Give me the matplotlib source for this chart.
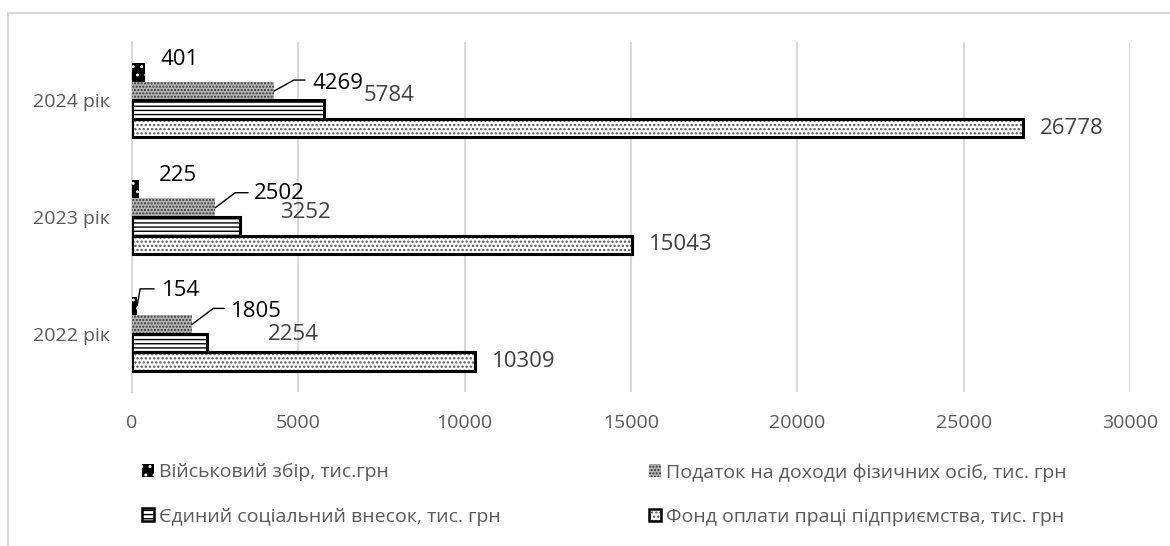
import matplotlib
matplotlib.use("Agg")
import matplotlib.pyplot as plt
import numpy as np
from matplotlib.patches import Patch, Rectangle
from matplotlib.legend_handler import HandlerTuple

plt.rcParams['font.family'] = ['Open Sans', 'DejaVu Sans']

# ---- data -------------------------------------------------------------
years = ["2022 рік", "2023 рік", "2024 рік"]
series_names = [
    "Військовий збір, тис.грн",
    "Податок на доходи фізичних осіб, тис. грн",
    "Єдиний соціальний внесок, тис. грн",
    "Фонд оплати праці підприємства, тис. грн",
]
military_levy = [154, 225, 401]
income_tax = [1805, 2502, 4269]
social_contrib = [2254, 3252, 5784]
payroll_fund = [10309, 15043, 26778]
x_ticks = [0, 5000, 10000, 15000, 20000, 25000, 30000]

# ---- styling ----------------------------------------------------------
# (face, hatch, hatch colour, outline colour or None, hatch line width)
styles = [
    ("#000000", "..", "#ffffff", None, 0.9),
    ("#b4b4b4", ".....", "#333333", None, 1.0),
    ("#ffffff", "----", "#000000", "#000000", 1.0),
    ("#ffffff", "....", "#555555", "#000000", 1.1),
]
# label offsets in pixels from (bar end, bar centre)
label_offsets = [
    [(25, 15), (19, 14), (15, 13)],
    [(39, 13), (39, 14), (38, 8)],
    [(61, 8), (40, 14), (39, 14)],
    [(17, 0), (17, 0), (17, 0)],
]
label_colors = ["#000000", "#000000", "#404040", "#404040"]
# leader lines: end offset (dx, dy) and angle of slanted part
leaders = {
    (0, 0): (17, 17, 80),
    (1, 0): (32, 16, 37),
    (1, 1): (33, 15, 37),
    (1, 2): (31, 11, 29),
}

fig = plt.figure(figsize=(11.7, 5.46), dpi=100)
W, H = 1170, 546
ax = fig.add_axes([132 / W, 1 - 392 / H, (1130 - 132) / W, (392 - 42) / H])

values = [military_levy, income_tax, social_contrib, payroll_fund]
y = np.arange(len(years))
h = 0.159
offsets = [1.5 * h, 0.5 * h, -0.5 * h, -1.5 * h]

for i, (vals, (fc, hatch, hc, oc, hlw)) in enumerate(zip(values, styles)):
    bars = ax.barh(y + offsets[i], vals, height=h, color=fc, hatch=hatch,
                   edgecolor=hc, linewidth=0, zorder=3)
    for b in bars:
        if hasattr(b, "set_hatch_linewidth"):
            b.set_hatch_linewidth(hlw)
    if oc is not None:
        ax.barh(y + offsets[i], vals, height=h, fill=False, edgecolor=oc,
                linewidth=2.2, zorder=4)
    for j, v in enumerate(vals):
        dx, dy = label_offsets[i][j]
        ax.annotate(f"{v}", xy=(v, y[j] + offsets[i]), xytext=(dx, dy),
                    textcoords="offset pixels", ha="left", va="center",
                    fontsize=16, color=label_colors[i], zorder=6)
        if (i, j) in leaders:
            ex, ey, ang = leaders[(i, j)]
            ax.annotate("", xy=(v, y[j] + offsets[i]), xytext=(ex, ey),
                        textcoords="offset pixels",
                        arrowprops=dict(arrowstyle="-", color="black", lw=1,
                                        shrinkA=0, shrinkB=0,
                                        connectionstyle=f"angle,angleA=0,angleB={ang},rad=0"),
                        zorder=6)

ax.set_xlim(0, 30000)
ax.set_ylim(-0.5, 2.5)
ax.set_xticks(x_ticks)
ax.set_xticklabels([str(t) for t in x_ticks])
ax.set_yticks(y)
ax.set_yticklabels(years)
ax.tick_params(axis="both", length=0, labelsize=14, labelcolor="#595959")
ax.tick_params(axis="x", pad=16)
ax.tick_params(axis="y", pad=16)
ax.grid(axis="x", color="#d9d9d9", linewidth=1.5, zorder=0)
for s in ["top", "right", "bottom"]:
    ax.spines[s].set_visible(False)
ax.spines["left"].set_color("#d9d9d9")
ax.spines["left"].set_linewidth(1.5)
ax.set_axisbelow(True)

# legend handles
handles = []
for fc, hatch, hc, oc, hlw in styles:
    p = Patch(facecolor=fc, hatch=hatch, edgecolor=hc, linewidth=0)
    if oc is not None:
        o = Patch(fill=False, edgecolor=oc, linewidth=1.8)
        handles.append((p, o))
    else:
        handles.append(p)

common = dict(frameon=False, fontsize=14, labelcolor="#595959",
              handlelength=0.62, handleheight=0.62, handletextpad=0.25,
              labelspacing=1.35, borderpad=0, borderaxespad=0, loc="center left",
              handler_map={tuple: HandlerTuple(ndivide=1, pad=0)})
leg1 = fig.legend([handles[0], handles[2]], [series_names[0], series_names[2]],
                  bbox_to_anchor=(142 / W, 1 - 494.5 / H), **common)
leg2 = fig.legend([handles[1], handles[3]], [series_names[1], series_names[3]],
                  bbox_to_anchor=(649 / W, 1 - 494.5 / H), **common)

# outer chart frame
fig.add_artist(Rectangle((8 / W, -0.2), 1.2, 1.2 - 13 / H, transform=fig.transFigure,
                         fill=False, edgecolor="#d9d9d9", linewidth=1.5))

fig.savefig("out.png", dpi=100)
